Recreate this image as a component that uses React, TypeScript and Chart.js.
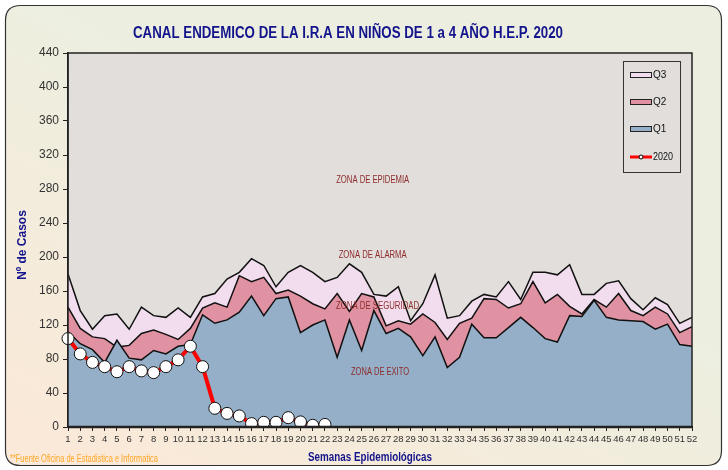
import React, { useEffect, useRef } from "react";
import { Chart, registerables } from "chart.js";

Chart.register(...registerables);

const weeks: string[] = Array.from({ length: 52 }, (_, i) => String(i + 1));

const q3: number[] = [
  180, 137, 115, 131, 133, 115, 141, 131, 129, 140, 129, 153, 157, 174, 182, 198, 190, 165,
  182, 190, 182, 171, 176, 192, 182, 156, 154, 165, 125, 145, 179, 128, 131, 148, 156,
  153, 171, 150, 182, 182, 179, 191, 156, 156, 169, 172, 151, 138, 152, 144, 122, 129,
];

const q2: number[] = [
  141, 116, 106, 104, 94, 96, 110, 114, 109, 103, 116, 140, 146, 141, 178, 171, 176, 157,
  161, 154, 145, 139, 157, 136, 157, 153, 119, 125, 121, 133, 123, 103, 122, 128, 151,
  150, 140, 145, 171, 146, 156, 142, 133, 150, 141, 157, 137, 131, 141, 133, 111, 118,
];

const q1: number[] = [
  112, 98, 91, 76, 102, 81, 79, 90, 86, 95, 97, 132, 122, 126, 135, 154, 131, 151,
  153, 111, 120, 126, 82, 126, 90, 137, 110, 116, 106, 84, 106, 70, 82, 121, 105,
  105, 117, 129, 117, 104, 100, 131, 130, 149, 129, 126, 125, 124, 115, 121, 97, 95,
];

const cases2020: (number | null)[] = [
  104, 86, 76, 71, 65, 71, 66, 64, 71, 79, 95, 71, 22, 16, 13, 4, 5.5, 5.5, 11, 6, 2, 3,
];

const yTicks: number[] = [0, 40, 80, 120, 160, 200, 240, 280, 320, 360, 400, 440];

const zoneLabels: { text: string; week: number; value: number; width: number }[] = [
  { text: "ZONA DE EPIDEMIA", week: 25.9, value: 290, width: 73 },
  { text: "ZONA DE ALARMA", week: 25.9, value: 202, width: 68 },
  { text: "ZONA DE SEGURIDAD", week: 26.3, value: 142, width: 83 },
  { text: "ZONA DE EXITO", week: 26.5, value: 65, width: 58 },
];

const TITLE = "CANAL ENDEMICO DE LA I.R.A EN NIÑOS DE 1 a 4 AÑO H.E.P. 2020";
const Y_TITLE = "Nº de Casos";
const X_TITLE = "Semanas Epidemiológicas";
const FOOTER = "**Fuente Oficina de Estadistica e Informatica";

const C_Q3 = "#F1DDED";
const C_Q2 = "#E092A2";
const C_Q1 = "#94AFC7";
const C_PLOT = "#E1DEDB";
const NAVY = "#14148C";
const FONT = "'Liberation Sans Narrow', 'Liberation Sans', Arial, sans-serif";
const FONT_W = "'Liberation Sans', Arial, sans-serif";

function roundRect(ctx: CanvasRenderingContext2D, x: number, y: number, w: number, h: number, r: number) {
  ctx.beginPath();
  ctx.moveTo(x + r, y);
  ctx.lineTo(x + w - r, y);
  ctx.quadraticCurveTo(x + w, y, x + w, y + r);
  ctx.lineTo(x + w, y + h - r);
  ctx.quadraticCurveTo(x + w, y + h, x + w - r, y + h);
  ctx.lineTo(x + r, y + h);
  ctx.quadraticCurveTo(x, y + h, x, y + h - r);
  ctx.lineTo(x, y + r);
  ctx.quadraticCurveTo(x, y, x + r, y);
  ctx.closePath();
}

const backgroundPlugin = {
  id: "bgPlugin",
  beforeDraw(chart: any) {
    const { ctx, chartArea } = chart;
    ctx.save();
    ctx.fillStyle = "#ffffff";
    ctx.fillRect(0, 0, chart.width, chart.height);
    const g = ctx.createLinearGradient(120, 470, 300, 120);
    g.addColorStop(0, "#FAE9D8");
    g.addColorStop(1, "#ECEFE0");
    roundRect(ctx, 5.5, 5.5, 716, 460, 15);
    ctx.fillStyle = g;
    ctx.fill();
    ctx.strokeStyle = "#333333";
    ctx.lineWidth = 1.2;
    ctx.stroke();
    ctx.fillStyle = C_PLOT;
    ctx.fillRect(chartArea.left, chartArea.top, chartArea.right - chartArea.left, chartArea.bottom - chartArea.top);
    ctx.restore();
  },
  afterDatasetsDraw(chart: any) {
    const { ctx, chartArea, scales } = chart;
    ctx.save();
    ctx.fillStyle = "#8E2B2B";
    ctx.font = `10px ${FONT}`;
    ctx.textAlign = "center";
    ctx.textBaseline = "middle";
    zoneLabels.forEach((z) => {
      const x = scales.x.getPixelForValue(z.week - 1);
      const y = scales.y.getPixelForValue(z.value);
      ctx.fillText(z.text, x, y, z.width);
    });
    ctx.strokeStyle = "#222222";
    ctx.lineWidth = 1.5;
    ctx.strokeRect(chartArea.left, chartArea.top, chartArea.right - chartArea.left, chartArea.bottom - chartArea.top);
    ctx.lineWidth = 2.5;
    ctx.beginPath();
    ctx.moveTo(chartArea.left, chartArea.bottom);
    ctx.lineTo(chartArea.right, chartArea.bottom);
    ctx.stroke();
    ctx.restore();
  },
  afterDraw(chart: any) {
    const { ctx } = chart;
    ctx.save();
    ctx.fillStyle = NAVY;
    ctx.textAlign = "center";
    ctx.textBaseline = "middle";
    ctx.font = `bold 16px ${FONT}`;
    ctx.fillText(TITLE, 348, 34, 430);
    ctx.font = `bold 12px ${FONT}`;
    ctx.fillText(X_TITLE, 370, 458, 124);
    ctx.save();
    ctx.translate(23, 245);
    ctx.rotate(-Math.PI / 2);
    ctx.font = `bold 12px ${FONT}`;
    ctx.fillText(Y_TITLE, 0, 0, 76);
    ctx.restore();
    ctx.fillStyle = "#FFA524";
    ctx.textAlign = "left";
    ctx.font = `10px ${FONT}`;
    ctx.fillText(FOOTER, 10, 459, 148);
    const lx = 623.5, ly = 61.5, lw = 57, lh = 111;
    ctx.fillStyle = C_PLOT;
    ctx.fillRect(lx, ly, lw, lh);
    ctx.strokeStyle = "#333333";
    ctx.lineWidth = 1;
    ctx.strokeRect(lx, ly, lw, lh);
    const items = chart.data.datasets.map((d: any) => d).reverse();
    const rowY = [75, 102, 129, 157];
    ctx.font = `10px ${FONT_W}`;
    ctx.textBaseline = "middle";
    items.forEach((d: any, i: number) => {
      const y = rowY[i];
      if (d.label === "2020") {
        ctx.strokeStyle = "#FF0000";
        ctx.lineWidth = 3;
        ctx.beginPath();
        ctx.moveTo(630, y);
        ctx.lineTo(652, y);
        ctx.stroke();
        ctx.beginPath();
        ctx.arc(641, y, 2, 0, Math.PI * 2);
        ctx.fillStyle = "#ffffff";
        ctx.fill();
        ctx.strokeStyle = "#000000";
        ctx.lineWidth = 1;
        ctx.stroke();
      } else {
        ctx.fillStyle = d.backgroundColor;
        ctx.fillRect(630.5, y - 2.5, 21, 5);
        ctx.strokeStyle = "#222222";
        ctx.lineWidth = 1;
        ctx.strokeRect(630.5, y - 2.5, 21, 5);
      }
      ctx.fillStyle = "#111111";
      ctx.textAlign = "left";
      ctx.fillText(d.label, 653, y, 20);
    });
    ctx.restore();
  },
};

export default function App() {
  const ref = useRef<HTMLCanvasElement | null>(null);

  useEffect(() => {
    document.body.style.margin = "0";
    if (!ref.current) return;
    const chart = new Chart(ref.current, {
      type: "line",
      data: {
        labels: weeks,
        datasets: [
          {
            label: "2020",
            data: cases2020,
            borderColor: "#FF0000",
            borderWidth: 4,
            pointRadius: 6,
            pointBackgroundColor: "#ffffff",
            pointBorderColor: "#111111",
            pointBorderWidth: 1,
            fill: false,
            tension: 0,
          },
          {
            label: "Q1",
            data: q1,
            borderColor: "#111111",
            borderWidth: 1.5,
            backgroundColor: C_Q1,
            pointRadius: 0,
            fill: "origin",
            tension: 0,
          },
          {
            label: "Q2",
            data: q2,
            borderColor: "#111111",
            borderWidth: 1.5,
            backgroundColor: C_Q2,
            pointRadius: 0,
            fill: "origin",
            tension: 0,
          },
          {
            label: "Q3",
            data: q3,
            borderColor: "#111111",
            borderWidth: 1.5,
            backgroundColor: C_Q3,
            pointRadius: 0,
            fill: "origin",
            tension: 0,
          },
        ],
      },
      options: {
        animation: false,
        responsive: false,
        maintainAspectRatio: false,
        layout: { padding: { left: 0, right: 36, top: 53, bottom: 0 } },
        plugins: {
          legend: { display: false },
          title: { display: false },
          tooltip: { enabled: false },
        },
        scales: {
          x: {
            offset: false,
            grid: { display: true, drawOnChartArea: false, drawTicks: true, tickLength: 4, color: "#222222" },
            border: { display: true, color: "#222222", width: 2 },
            ticks: {
              autoSkip: false,
              maxRotation: 0,
              minRotation: 0,
              padding: 3,
              color: "#333333",
              font: { family: FONT, size: 9.5 },
            },
            afterFit: (s: any) => {
              s.height = 43;
            },
          },
          y: {
            min: 0,
            max: 440,
            afterBuildTicks: (s: any) => {
              s.ticks = yTicks.map((v) => ({ value: v }));
            },
            grid: { display: true, drawOnChartArea: false, drawTicks: true, tickLength: 5, color: "#222222" },
            border: { display: true, color: "#222222", width: 1.5 },
            ticks: {
              padding: 4,
              color: "#333333",
              font: { family: FONT_W, size: 12 },
            },
            afterFit: (s: any) => {
              s.width = 68;
            },
          },
        },
      },
      plugins: [backgroundPlugin],
    });
    return () => chart.destroy();
  }, []);

  return (
    <div style={{ width: 728, height: 470 }}>
      <canvas ref={ref} width={728} height={470} style={{ display: "block", width: 728, height: 470 }} />
    </div>
  );
}
